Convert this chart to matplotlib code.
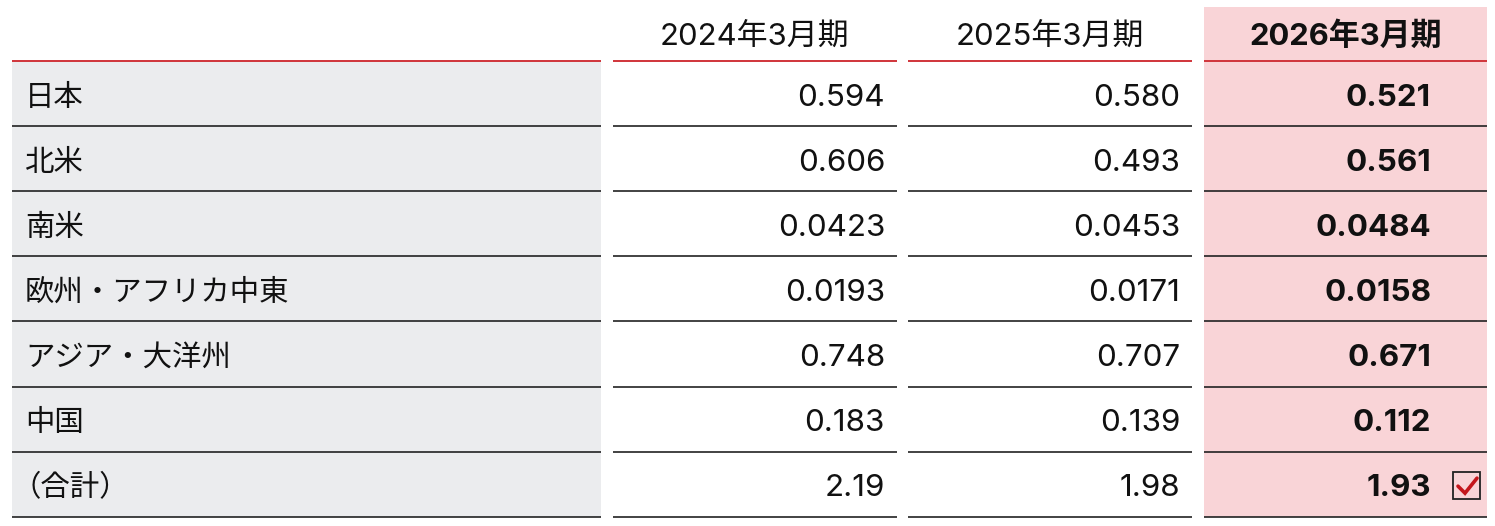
import matplotlib
matplotlib.use("Agg")
import matplotlib.pyplot as plt
from matplotlib.patches import Rectangle

# Inter for the digits, CJK font for the Japanese glyphs
NUM_FONT = ["Inter", "Noto Sans CJK JP", "DejaVu Sans"]
JP_FONT = ["Noto Sans CJK JP", "DejaVu Sans"]
plt.rcParams["font.family"] = JP_FONT

# table content
periods = ["2024年3月期", "2025年3月期", "2026年3月期"]
regions = ["日本", "北米", "南米", "欧州・アフリカ中東", "アジア・大洋州", "中国", "（合計）"]
fy2024 = ["0.594", "0.606", "0.0423", "0.0193", "0.748", "0.183", "2.19"]
fy2025 = ["0.580", "0.493", "0.0453", "0.0171", "0.707", "0.139", "1.98"]
fy2026 = ["0.521", "0.561", "0.0484", "0.0158", "0.671", "0.112", "1.93"]

W, H = 1495, 526
fig = plt.figure(figsize=(W / 100, H / 100), dpi=100)
ax = fig.add_axes([0, 0, 1, 1])
ax.set_xlim(0, W)
ax.set_ylim(H, 0)
ax.axis("off")

# column geometry (pixels)
label_col = (12, 601)
val_cols = [(613, 897), (908, 1192), (1204, 1487)]
top_line = 61
row_h = 65.1
n = len(regions)
bottom = top_line + n * row_h

RED = "#d0343a"
DARK = "#222222"
GRAY = "#ebecee"
PINK = "#f9d4d7"
INK = "#111111"

# backgrounds
ax.add_patch(Rectangle((label_col[0], top_line), label_col[1] - label_col[0],
                       bottom - top_line, color=GRAY, lw=0))
hx0, hx1 = val_cols[2]
ax.add_patch(Rectangle((hx0, 7), hx1 - hx0, bottom - 7, color=PINK, lw=0))

# rules
for x0, x1 in [label_col] + val_cols:
    ax.plot([x0, x1], [top_line, top_line], color=RED, lw=1.4, solid_capstyle="butt")
    for i in range(1, n + 1):
        y = top_line + i * row_h
        ax.plot([x0, x1], [y, y], color=DARK, lw=1.2, solid_capstyle="butt")

# headers
for j, p in enumerate(periods):
    cx = (val_cols[j][0] + val_cols[j][1]) / 2
    ax.text(cx, 45, p, ha="center", va="baseline", fontsize=22.3, family=NUM_FONT,
            fontweight="bold" if j == 2 else "normal", color=INK)

# rows
right_edges = [885, 1180, 1431]
for i, reg in enumerate(regions):
    base = top_line + (i + 0.5) * row_h + 12
    # full-width opening bracket carries its own left padding
    lx = 12 if reg.startswith("（") else 25
    ax.text(lx, base, reg, ha="left", va="baseline", fontsize=21.2, color=INK)
    for j, col in enumerate([fy2024, fy2025, fy2026]):
        ax.text(right_edges[j], base, col[i], ha="right", va="baseline",
                fontsize=22.6, family=NUM_FONT,
                fontweight="bold" if j == 2 else "normal", color=INK)

# check box next to the total
cy = top_line + (n - 0.5) * row_h + 1
ax.add_patch(Rectangle((1453, cy - 13.5), 27, 27, fill=False, ec=DARK, lw=1.3))
ax.plot([1458, 1465, 1477], [cy + 1, cy + 8, cy - 7], color="#c4161c", lw=2.6,
        solid_capstyle="round", solid_joinstyle="miter")

fig.savefig("out.png", dpi=100, facecolor="white")
